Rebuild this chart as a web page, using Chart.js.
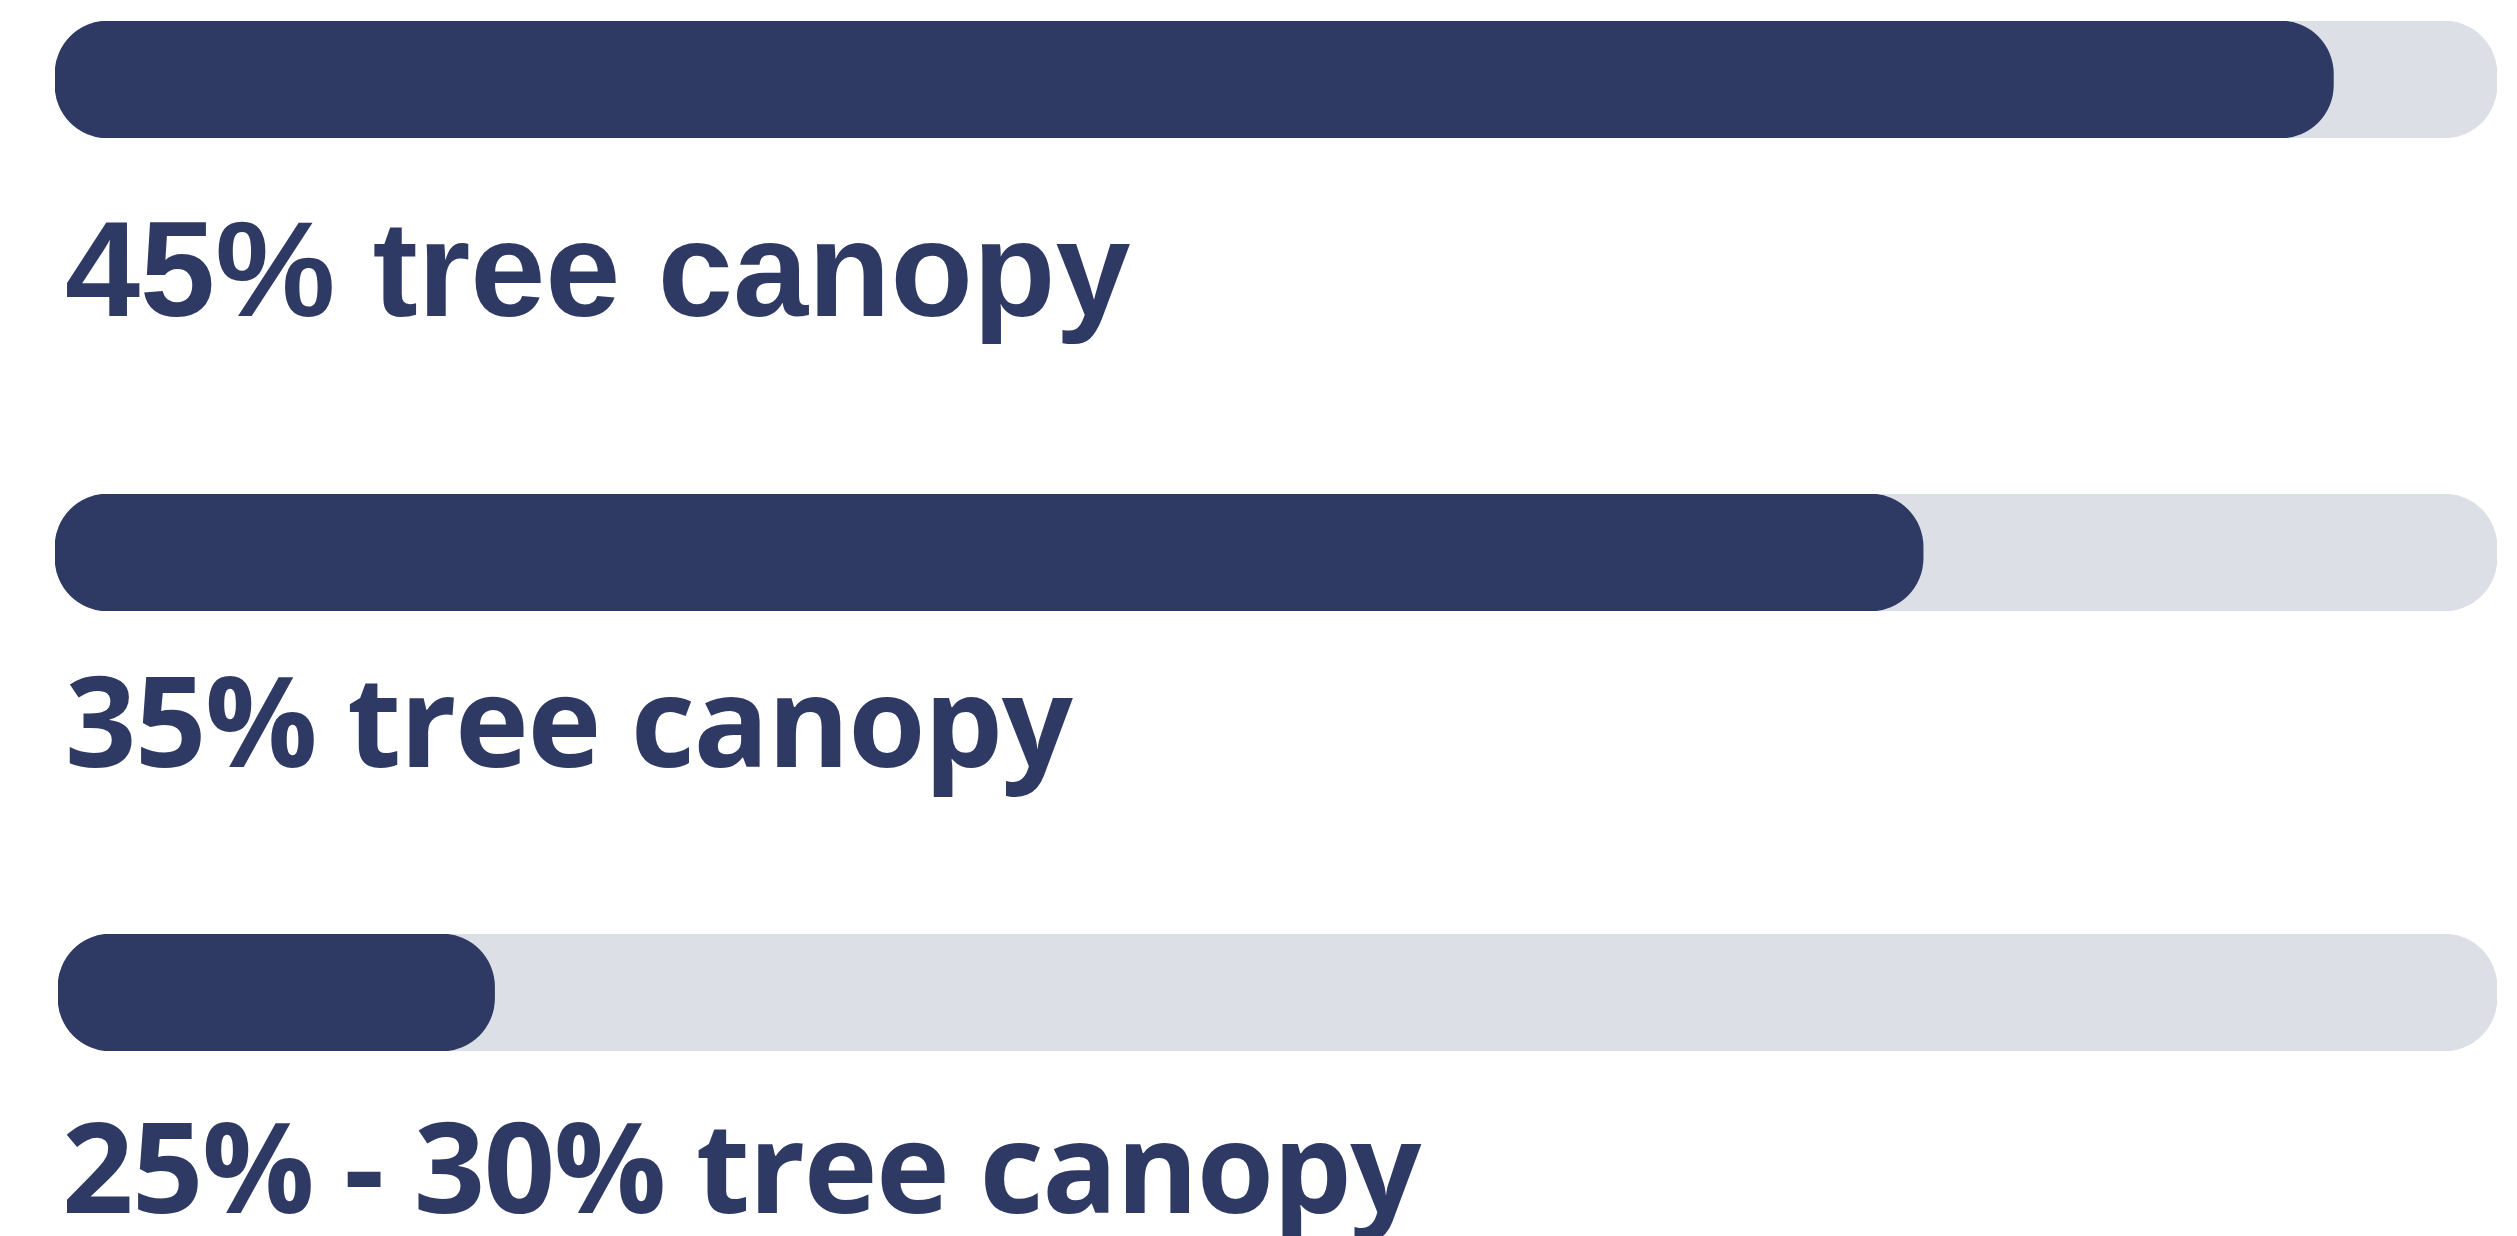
<!DOCTYPE html>
<html>
<head>
<meta charset="utf-8">
<script src="https://cdn.jsdelivr.net/npm/chart.js@4/dist/chart.umd.min.js"></script>
<style>
  html, body { margin: 0; padding: 0; background: #ffffff; }
  body { width: 2517px; height: 1236px; position: relative; overflow: hidden; }
  .bar { position: absolute; }
  .lbl { position: absolute; color: #2E3A64; white-space: nowrap; line-height: 1; }
  .lbl1 { font-family: "Liberation Sans", Arial, sans-serif; font-weight: 700; font-size: 135px; }
  .lbl2 { font-family: "Open Sans", sans-serif; font-weight: 700; font-size: 125px; letter-spacing: -1.5px; }
</style>
</head>
<body>
<div class="bar" id="w0" style="left:55px; top:21px;"><canvas id="c0" width="2442" height="117"></canvas></div>
<div class="bar" id="w1" style="left:55px; top:494px;"><canvas id="c1" width="2442" height="117"></canvas></div>
<div class="bar" id="w2" style="left:58px; top:934px;"><canvas id="c2" width="2439" height="117"></canvas></div>
<div class="lbl lbl1" id="l0" style="left:65px; top:202px;"></div>
<div class="lbl lbl2" id="l1" style="left:65px; top:656px;"></div>
<div class="lbl lbl2" id="l2" style="left:62px; top:1102px;"></div>
<script>
// Data
const categories = ["45% tree canopy", "35% tree canopy", "25% - 30% tree canopy"];
const barValues = [93.3, 76.5, 17.9];
const trackValues = [100, 100, 100];
const axisMax = 100;

const DARK = "#2E3A64";
const TRACK = "#DCDFE6";

categories.forEach((cat, i) => {
  document.getElementById("l" + i).textContent = cat;
  const ctx = document.getElementById("c" + i).getContext("2d");
  new Chart(ctx, {
    type: "bar",
    data: {
      labels: [cat],
      datasets: [
        { data: [barValues[i]], backgroundColor: DARK, borderRadius: 53, borderSkipped: false },
        { data: [trackValues[i]], backgroundColor: TRACK, borderRadius: 53, borderSkipped: false }
      ]
    },
    options: {
      indexAxis: "y",
      responsive: false,
      maintainAspectRatio: false,
      animation: false,
      layout: { padding: 0 },
      datasets: { bar: { barPercentage: 1, categoryPercentage: 1, grouped: false } },
      scales: {
        x: { display: false, min: 0, max: axisMax },
        y: { display: false }
      },
      plugins: { legend: { display: false }, tooltip: { enabled: false } }
    }
  });
});
</script>
</body>
</html>
